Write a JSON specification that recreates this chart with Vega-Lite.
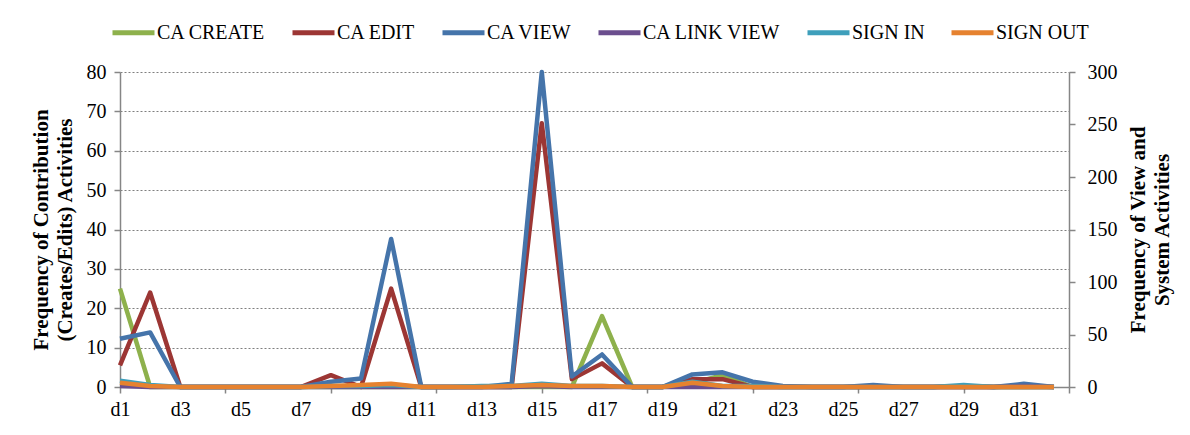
{
"$schema": "https://vega.github.io/schema/vega-lite/v6.json",
"width": 949,
"height": 315,
"autosize": {"type": "none"},
"padding": {"left": 120, "top": 72, "right": 121, "bottom": 48},
"background": "white",
"config": {"font": "Liberation Serif", "view": {"stroke": null}},
"data": {"values": [
{"d":1,"s":"CA CREATE","v":25},{"d":2,"s":"CA CREATE","v":0},{"d":3,"s":"CA CREATE","v":0},{"d":4,"s":"CA CREATE","v":0},{"d":5,"s":"CA CREATE","v":0},{"d":6,"s":"CA CREATE","v":0},{"d":7,"s":"CA CREATE","v":0},{"d":8,"s":"CA CREATE","v":0},{"d":9,"s":"CA CREATE","v":0},{"d":10,"s":"CA CREATE","v":0},{"d":11,"s":"CA CREATE","v":0},{"d":12,"s":"CA CREATE","v":0},{"d":13,"s":"CA CREATE","v":0},{"d":14,"s":"CA CREATE","v":0},{"d":15,"s":"CA CREATE","v":0},{"d":16,"s":"CA CREATE","v":0},{"d":17,"s":"CA CREATE","v":18},{"d":18,"s":"CA CREATE","v":0},{"d":19,"s":"CA CREATE","v":0},{"d":20,"s":"CA CREATE","v":1},{"d":21,"s":"CA CREATE","v":3},{"d":22,"s":"CA CREATE","v":0},{"d":23,"s":"CA CREATE","v":0},{"d":24,"s":"CA CREATE","v":0},{"d":25,"s":"CA CREATE","v":0},{"d":26,"s":"CA CREATE","v":0},{"d":27,"s":"CA CREATE","v":0},{"d":28,"s":"CA CREATE","v":0},{"d":29,"s":"CA CREATE","v":0},{"d":30,"s":"CA CREATE","v":0},{"d":31,"s":"CA CREATE","v":0},{"d":32,"s":"CA CREATE","v":0},
{"d":1,"s":"CA EDIT","v":5.5},{"d":2,"s":"CA EDIT","v":24},{"d":3,"s":"CA EDIT","v":0},{"d":4,"s":"CA EDIT","v":0},{"d":5,"s":"CA EDIT","v":0},{"d":6,"s":"CA EDIT","v":0},{"d":7,"s":"CA EDIT","v":0},{"d":8,"s":"CA EDIT","v":3},{"d":9,"s":"CA EDIT","v":0},{"d":10,"s":"CA EDIT","v":25},{"d":11,"s":"CA EDIT","v":0},{"d":12,"s":"CA EDIT","v":0},{"d":13,"s":"CA EDIT","v":0},{"d":14,"s":"CA EDIT","v":0},{"d":15,"s":"CA EDIT","v":67},{"d":16,"s":"CA EDIT","v":2},{"d":17,"s":"CA EDIT","v":6},{"d":18,"s":"CA EDIT","v":0},{"d":19,"s":"CA EDIT","v":0},{"d":20,"s":"CA EDIT","v":2},{"d":21,"s":"CA EDIT","v":2},{"d":22,"s":"CA EDIT","v":0},{"d":23,"s":"CA EDIT","v":0},{"d":24,"s":"CA EDIT","v":0},{"d":25,"s":"CA EDIT","v":0},{"d":26,"s":"CA EDIT","v":0},{"d":27,"s":"CA EDIT","v":0},{"d":28,"s":"CA EDIT","v":0},{"d":29,"s":"CA EDIT","v":0},{"d":30,"s":"CA EDIT","v":0},{"d":31,"s":"CA EDIT","v":0},{"d":32,"s":"CA EDIT","v":0},
{"d":1,"s":"CA VIEW","v":46},{"d":2,"s":"CA VIEW","v":52},{"d":3,"s":"CA VIEW","v":0},{"d":4,"s":"CA VIEW","v":0},{"d":5,"s":"CA VIEW","v":0},{"d":6,"s":"CA VIEW","v":0},{"d":7,"s":"CA VIEW","v":0},{"d":8,"s":"CA VIEW","v":5},{"d":9,"s":"CA VIEW","v":8},{"d":10,"s":"CA VIEW","v":141},{"d":11,"s":"CA VIEW","v":0},{"d":12,"s":"CA VIEW","v":0},{"d":13,"s":"CA VIEW","v":0},{"d":14,"s":"CA VIEW","v":3},{"d":15,"s":"CA VIEW","v":300},{"d":16,"s":"CA VIEW","v":10},{"d":17,"s":"CA VIEW","v":31},{"d":18,"s":"CA VIEW","v":0},{"d":19,"s":"CA VIEW","v":0},{"d":20,"s":"CA VIEW","v":12},{"d":21,"s":"CA VIEW","v":14},{"d":22,"s":"CA VIEW","v":5},{"d":23,"s":"CA VIEW","v":1},{"d":24,"s":"CA VIEW","v":0},{"d":25,"s":"CA VIEW","v":0},{"d":26,"s":"CA VIEW","v":2},{"d":27,"s":"CA VIEW","v":0},{"d":28,"s":"CA VIEW","v":0},{"d":29,"s":"CA VIEW","v":1},{"d":30,"s":"CA VIEW","v":0},{"d":31,"s":"CA VIEW","v":3},{"d":32,"s":"CA VIEW","v":0},
{"d":1,"s":"CA LINK VIEW","v":1},{"d":2,"s":"CA LINK VIEW","v":0},{"d":3,"s":"CA LINK VIEW","v":0},{"d":4,"s":"CA LINK VIEW","v":0},{"d":5,"s":"CA LINK VIEW","v":0},{"d":6,"s":"CA LINK VIEW","v":0},{"d":7,"s":"CA LINK VIEW","v":0},{"d":8,"s":"CA LINK VIEW","v":0},{"d":9,"s":"CA LINK VIEW","v":0},{"d":10,"s":"CA LINK VIEW","v":0},{"d":11,"s":"CA LINK VIEW","v":0},{"d":12,"s":"CA LINK VIEW","v":0},{"d":13,"s":"CA LINK VIEW","v":0},{"d":14,"s":"CA LINK VIEW","v":0},{"d":15,"s":"CA LINK VIEW","v":1},{"d":16,"s":"CA LINK VIEW","v":0},{"d":17,"s":"CA LINK VIEW","v":0},{"d":18,"s":"CA LINK VIEW","v":0},{"d":19,"s":"CA LINK VIEW","v":0},{"d":20,"s":"CA LINK VIEW","v":0},{"d":21,"s":"CA LINK VIEW","v":0},{"d":22,"s":"CA LINK VIEW","v":0},{"d":23,"s":"CA LINK VIEW","v":0},{"d":24,"s":"CA LINK VIEW","v":0},{"d":25,"s":"CA LINK VIEW","v":0},{"d":26,"s":"CA LINK VIEW","v":0},{"d":27,"s":"CA LINK VIEW","v":0},{"d":28,"s":"CA LINK VIEW","v":0},{"d":29,"s":"CA LINK VIEW","v":0},{"d":30,"s":"CA LINK VIEW","v":0},{"d":31,"s":"CA LINK VIEW","v":1},{"d":32,"s":"CA LINK VIEW","v":0},
{"d":1,"s":"SIGN IN","v":6},{"d":2,"s":"SIGN IN","v":2},{"d":3,"s":"SIGN IN","v":0},{"d":4,"s":"SIGN IN","v":0},{"d":5,"s":"SIGN IN","v":0},{"d":6,"s":"SIGN IN","v":0},{"d":7,"s":"SIGN IN","v":0},{"d":8,"s":"SIGN IN","v":1},{"d":9,"s":"SIGN IN","v":1},{"d":10,"s":"SIGN IN","v":2},{"d":11,"s":"SIGN IN","v":0},{"d":12,"s":"SIGN IN","v":0},{"d":13,"s":"SIGN IN","v":1},{"d":14,"s":"SIGN IN","v":1},{"d":15,"s":"SIGN IN","v":3},{"d":16,"s":"SIGN IN","v":1},{"d":17,"s":"SIGN IN","v":1},{"d":18,"s":"SIGN IN","v":0},{"d":19,"s":"SIGN IN","v":0},{"d":20,"s":"SIGN IN","v":5},{"d":21,"s":"SIGN IN","v":1},{"d":22,"s":"SIGN IN","v":1},{"d":23,"s":"SIGN IN","v":0},{"d":24,"s":"SIGN IN","v":0},{"d":25,"s":"SIGN IN","v":0},{"d":26,"s":"SIGN IN","v":0},{"d":27,"s":"SIGN IN","v":0},{"d":28,"s":"SIGN IN","v":0},{"d":29,"s":"SIGN IN","v":2},{"d":30,"s":"SIGN IN","v":0},{"d":31,"s":"SIGN IN","v":0},{"d":32,"s":"SIGN IN","v":0},
{"d":1,"s":"SIGN OUT","v":4},{"d":2,"s":"SIGN OUT","v":1},{"d":3,"s":"SIGN OUT","v":0},{"d":4,"s":"SIGN OUT","v":0},{"d":5,"s":"SIGN OUT","v":0},{"d":6,"s":"SIGN OUT","v":0},{"d":7,"s":"SIGN OUT","v":0},{"d":8,"s":"SIGN OUT","v":1},{"d":9,"s":"SIGN OUT","v":2},{"d":10,"s":"SIGN OUT","v":3},{"d":11,"s":"SIGN OUT","v":0},{"d":12,"s":"SIGN OUT","v":0},{"d":13,"s":"SIGN OUT","v":0},{"d":14,"s":"SIGN OUT","v":1},{"d":15,"s":"SIGN OUT","v":2},{"d":16,"s":"SIGN OUT","v":1},{"d":17,"s":"SIGN OUT","v":1},{"d":18,"s":"SIGN OUT","v":0},{"d":19,"s":"SIGN OUT","v":0},{"d":20,"s":"SIGN OUT","v":4},{"d":21,"s":"SIGN OUT","v":1},{"d":22,"s":"SIGN OUT","v":0},{"d":23,"s":"SIGN OUT","v":0},{"d":24,"s":"SIGN OUT","v":0},{"d":25,"s":"SIGN OUT","v":0},{"d":26,"s":"SIGN OUT","v":0},{"d":27,"s":"SIGN OUT","v":0},{"d":28,"s":"SIGN OUT","v":0},{"d":29,"s":"SIGN OUT","v":0},{"d":30,"s":"SIGN OUT","v":0},{"d":31,"s":"SIGN OUT","v":0},{"d":32,"s":"SIGN OUT","v":0}
]},
"encoding": {
  "x": {"field": "d", "type": "quantitative",
    "scale": {"domain": [1, 32.5], "nice": false, "zero": false},
    "axis": {"title": null, "grid": false,
      "values": [1,3,4.5,5,7,8,9,11,11.5,13,15,17,18.5,19,21,22,23,25,25.5,27,29,31,32.5],
      "labelExpr": "datum.value % 2 == 1 ? 'd' + datum.value : ''",
      "tickOpacity": {"condition": {"test": "(datum.value - 1) % 3.5 == 0", "value": 1}, "value": 0},
      "labelFlush": false, "labelOverlap": false, "labelBound": false,
      "labelFont": "Liberation Serif", "labelFontSize": 20, "labelColor": "black",
      "labelPadding": 6, "tickSize": 6, "tickColor": "#868686", "tickWidth": 1.5,
      "domainColor": "#868686", "domainWidth": 1.5}},
  "color": {"field": "s", "type": "nominal",
    "scale": {"domain": ["CA CREATE","CA EDIT","CA VIEW","CA LINK VIEW","SIGN IN","SIGN OUT"],
              "range": ["#8EB14C","#9C3634","#4574AA","#6B4E8E","#3E9FBB","#E6822F"]},
    "legend": {"title": null, "orient": "none", "direction": "horizontal", "legendX": -10, "legendY": -63,
      "symbolType": "stroke", "symbolSize": 1764, "symbolStrokeWidth": 5,
      "labelFont": "Liberation Serif", "labelFontSize": 20, "labelColor": "black",
      "labelOffset": 0, "columnPadding": 16, "padding": 0}}
},
"layer": [
  {"transform": [{"filter": {"field": "s", "oneOf": ["CA CREATE","CA EDIT"]}}],
   "mark": {"type": "line", "strokeWidth": 4.5, "strokeJoin": "round"},
   "encoding": {"y": {"field": "v", "type": "quantitative",
     "scale": {"domain": [0, 80], "nice": false},
     "axis": {"values": [0,10,20,30,40,50,60,70,80],
       "title": ["Frequency of Contribution", "(Creates/Edits) Activities"],
       "titleFont": "Liberation Serif", "titleFontSize": 21, "titleFontWeight": "bold", "titleColor": "black",
       "titleLineHeight": 24, "titlePadding": 11,
       "labelFont": "Liberation Serif", "labelFontSize": 20, "labelColor": "black", "labelPadding": 8,
       "tickSize": 6, "tickColor": "#868686", "tickWidth": 1.5,
       "domainColor": "#868686", "domainWidth": 1.5,
       "grid": true, "gridColor": "#7f7f7f", "gridDash": [2, 2], "gridWidth": 1}}}},
  {"transform": [{"filter": {"field": "s", "oneOf": ["CA VIEW","CA LINK VIEW","SIGN IN","SIGN OUT"]}}],
   "mark": {"type": "line", "strokeWidth": 4.5, "strokeJoin": "round"},
   "encoding": {"y": {"field": "v", "type": "quantitative",
     "scale": {"domain": [0, 300], "nice": false},
     "axis": {"orient": "right", "values": [0,50,100,150,200,250,300],
       "title": ["Frequency of View and", "System Activities"], "titleAngle": 270,
       "titleFont": "Liberation Serif", "titleFontSize": 21, "titleFontWeight": "bold", "titleColor": "black",
       "titleLineHeight": 24, "titlePadding": 7,
       "labelFont": "Liberation Serif", "labelFontSize": 20, "labelColor": "black", "labelPadding": 12,
       "tickSize": 6, "tickColor": "#868686", "tickWidth": 1.5,
       "domainColor": "#868686", "domainWidth": 1.5, "grid": false}}}}
],
"resolve": {"scale": {"y": "independent"}}
}
